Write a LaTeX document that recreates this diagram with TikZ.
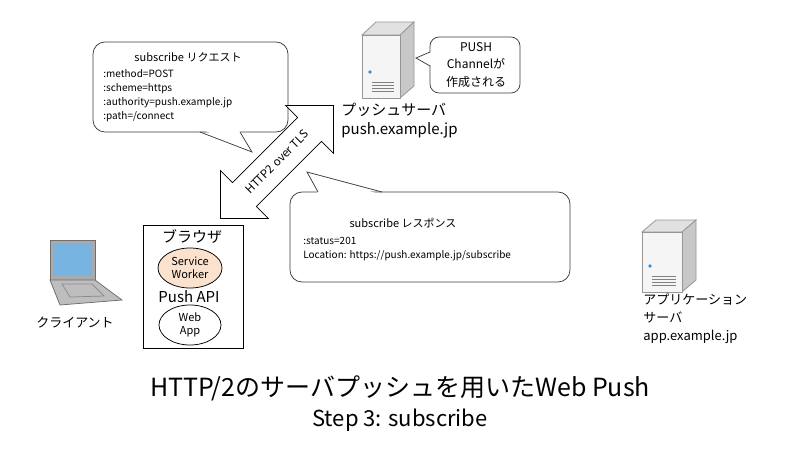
\documentclass[tikz,border=0pt]{standalone}
\usepackage{fontspec}
\setmainfont{Noto Sans CJK JP}
\usetikzlibrary{shapes.arrows,shapes.geometric}
\tikzset{every picture/.style={line width=0.75pt}}
\tikzset{
  callout/.style={draw={rgb, 255:red, 60; green, 60; blue, 60}, fill=white, rounded corners=12pt},
  small/.style={font=\fontsize{10}{12}\selectfont, inner sep=0pt},
  label/.style={font=\fontsize{15}{17}\selectfont, inner sep=0pt},
  oval/.style={draw, ellipse, minimum width=64pt, minimum height=40pt, align=center, font=\fontsize{11}{13}\selectfont, inner sep=0pt},
  server/.style={fill={rgb, 255:red, 225; green, 225; blue, 225}, draw={rgb, 255:red, 150; green, 150; blue, 150}},
  led/.style={fill={rgb, 255:red, 60; green, 140; blue, 210}}
}
\begin{document}
\begin{tikzpicture}[x=1pt,y=1pt,yscale=-1,xscale=1]
\useasboundingbox (0,0) rectangle (800,450);

%Callout: request
\draw [callout] (93,42) rectangle (288,132) ;
\fill [white] (201,129) -- (250,150) -- (239,129) -- cycle ;
\draw [draw={rgb, 255:red, 60; green, 60; blue, 60}] (200,132) -- (252,152) -- (240,132) ;
\node [small, font=\fontsize{11}{13}\selectfont, anchor=base] (reqt) at (188,61) {subscribe リクエスト};
\node [small, anchor=base west] (req1) at (103,77) {:method=POST};
\node [small, anchor=base west] (req2) at (103,91) {:scheme=https};
\node [small, anchor=base west] (req3) at (103,105) {:authority=push.example.jp};
\node [small, anchor=base west] (req4) at (103,119) {:path=/connect};

%Callout: response
\draw [callout] (290,192) rectangle (570,282) ;
\fill [white] (318,194) -- (307,172) -- (382,195) -- cycle ;
\draw [draw={rgb, 255:red, 60; green, 60; blue, 60}] (318,192) -- (307,172) -- (382,192) ;
\node [small, font=\fontsize{11}{13}\selectfont, anchor=base] (rest) at (403,227) {subscribe レスポンス};
\node [small, anchor=base west] (res1) at (303,244) {:status=201};
\node [small, anchor=base west] (res2) at (303,258) {Location: https://push.example.jp/subscribe};

%Callout: push channel
\draw [callout, rounded corners=9pt] (430,37) rectangle (520,93) ;
\fill [white] (432,52) -- (416,58) -- (432,66) -- cycle ;
\draw [draw={rgb, 255:red, 60; green, 60; blue, 60}] (430,52) -- (416,58) -- (430,66) ;
\node [font=\fontsize{12}{17.5}\selectfont, align=center, inner sep=0pt] (chan) at (476,65) {PUSH\\Channelが\\作成される};

%Double arrow
\node [double arrow, draw, fill=white, rotate=45, minimum width=68pt, minimum height=160pt,
  double arrow head extend=13pt, inner sep=8pt, font=\fontsize{11.5}{13}\selectfont] (http) at (277,162) {HTTP2 over TLS};

%Push server icon
\draw [server] (362,35) -- (376,22) -- (414,22) -- (400,35) -- cycle ;
\draw [server, fill={rgb, 255:red, 200; green, 200; blue, 200}] (400,35) -- (414,22) -- (414,86) -- (400,98) -- cycle ;
\draw [server, fill={rgb, 255:red, 245; green, 245; blue, 245}] (362,35) rectangle (400,98) ;
\fill [led] (370,72) circle (1.8) ;
\foreach \y in {82,85,88,91} \draw [line width=0.5pt, gray] (372,\y) -- (394,\y) ;
\node [label, anchor=base west] (psl) at (341,115) {プッシュサーバ};
\node [label, anchor=base west] (psh) at (341,134) {push.example.jp};

%App server icon
\draw [server] (642,232) -- (656,220) -- (696,220) -- (682,232) -- cycle ;
\draw [server, fill={rgb, 255:red, 200; green, 200; blue, 200}] (682,232) -- (696,220) -- (696,280) -- (682,292) -- cycle ;
\draw [server, fill={rgb, 255:red, 245; green, 245; blue, 245}] (642,232) rectangle (682,292) ;
\fill [led] (650,266) circle (1.8) ;
\foreach \y in {276,279,282,285} \draw [line width=0.5pt, gray] (652,\y) -- (676,\y) ;
\node [label, font=\fontsize{13}{15}\selectfont, anchor=base west] (as1) at (643,304) {アプリケーション};
\node [label, font=\fontsize{13}{15}\selectfont, anchor=base west] (as2) at (643,322) {サーバ};
\node [label, font=\fontsize{13}{15}\selectfont, anchor=base west] (as3) at (643,340) {app.example.jp};

%Laptop
\draw [fill={rgb, 255:red, 170; green, 170; blue, 170}, draw={rgb, 255:red, 110; green, 110; blue, 110}] (50,240) rectangle (95,280) ;
\fill [fill={rgb, 255:red, 120; green, 180; blue, 225}] (53,243) rectangle (92,276) ;
\draw [fill={rgb, 255:red, 190; green, 190; blue, 190}, draw={rgb, 255:red, 110; green, 110; blue, 110}] (50,280) -- (95,280) -- (122,300) -- (60,305) -- cycle ;
\draw [draw={rgb, 255:red, 140; green, 140; blue, 140}] (62,284) -- (92,284) -- (104,296) -- (70,297) -- cycle ;
\node [label, font=\fontsize{13}{15}\selectfont, anchor=base] (cl) at (75,327) {クライアント};

%Browser
\draw (143,225) rectangle (243,348) ;
\node [label, anchor=base] (br) at (192,242) {ブラウザ};
\node [oval, fill={rgb, 255:red, 250; green, 226; blue, 206}] (sw) at (190,268) {Service\\Worker};
\node [label, anchor=base] (api) at (189,302) {Push API};
\node [oval, minimum width=62pt] (web) at (190,325) {Web\\App};

%Title
\node [font=\fontsize{25}{28}\selectfont] (t1) at (400,388) {HTTP/2のサーバプッシュを用いたWeb Push};
\node [font=\fontsize{22}{25}\selectfont] (t2) at (400,420) {Step 3: subscribe};

\end{tikzpicture}
\end{document}
